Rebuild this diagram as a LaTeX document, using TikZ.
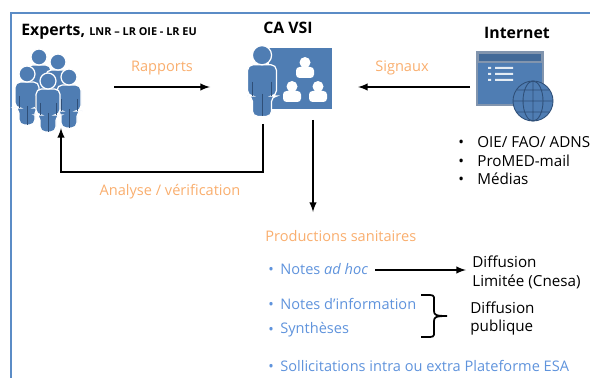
\documentclass[tikz,border=0pt]{standalone}
\usepackage{fontspec}
\setmainfont{Open Sans}
\definecolor{iconblue}{HTML}{4F7DB3}
\definecolor{icondark}{HTML}{2F4F78}
\definecolor{textblue}{HTML}{5F93DC}
\definecolor{textorange}{HTML}{F9AE6E}
\definecolor{frameblue}{HTML}{5B8CC6}
\tikzset{
  person/.pic={
    \filldraw[draw=white, fill=iconblue, line width=0.7pt, rounded corners=3pt]
        (-12,-6) -- (12,-6) -- (12,20) -- (8,20) -- (8,37) -- (-8,37) -- (-8,20) -- (-12,20) -- cycle;
    \filldraw[draw=white, fill=iconblue, line width=0.7pt] (0,-14) circle (8);
    \draw[icondark, line width=0.4pt] (0,18) -- (0,37)
                                      (-8,8) -- (-8,20)
                                      (8,8)  -- (8,20);
  },
  pupil/.pic={
    \fill[white] (0,-4.5) circle (5.5);
    \fill[white, rounded corners=2pt] (-9,0) -- (9,0) -- (9,11) -- (-9,11) -- cycle;
  }
}
\begin{document}
\begin{tikzpicture}[x=0.02cm,y=-0.02cm]
    \tikzstyle{titre}=[font=\fontsize{9pt}{10pt}\selectfont\bfseries, inner sep=0pt]
    \tikzstyle{orange}=[font=\fontsize{8.3pt}{10pt}\selectfont, text=textorange, inner sep=0pt]
    \tikzstyle{bleu}=[font=\fontsize{8.3pt}{10pt}\selectfont, text=textblue, inner sep=0pt, anchor=west]
    \tikzstyle{noir}=[font=\fontsize{8.65pt}{10pt}\selectfont, inner sep=0pt, anchor=west]
    \tikzstyle{fleche}=[draw=black, line width=0.9pt, -latex]
    \useasboundingbox (0,0) rectangle (590,378);
    \draw[draw=frameblue, line width=1pt] (590,13) -- (11,13) -- (11,378);

    \node[titre, anchor=west] (experts) at (21,32) {Experts, {\fontsize{6.2pt}{7pt}\selectfont LNR – LR OIE - LR EU}};
    \node[titre] (cavsi) at (288,28) {CA VSI};
    \node[titre] (internet) at (517,33) {Internet};

    \pic at (39,71) {person};
    \pic at (58,76) {person};
    \pic at (27,88) {person};
    \pic at (69,91) {person};
    \pic at (48,95) {person};

    \fill[fill=iconblue] (269,48) rectangle (332,109);
    \pic at (305,67) {pupil};
    \pic at (292,91) {pupil};
    \pic at (318,91) {pupil};
    \pic[scale=1.2] at (262,72) {person};

    \filldraw[draw=icondark!60, fill=iconblue, line width=0.6pt] (477,52) rectangle (543,105);
    \filldraw[draw=icondark!60, fill=iconblue!85!black, line width=0.6pt] (478,53) rectangle (542,62);
    \fill[white!85!iconblue] (488,67) rectangle (491,69)
                             (488,73) rectangle (491,75)
                             (488,79) rectangle (491,81)
                             (495,67) rectangle (513,69)
                             (495,73) rectangle (513,75)
                             (495,79) rectangle (513,81);
    \filldraw[draw=icondark, fill=iconblue, line width=0.5pt] (533,101) circle (20);
    \draw[draw=icondark, line width=0.5pt] (513,101) -- (553,101)
                                           (533,81)  -- (533,121)
                                           (517,90)  -- (549,90)
                                           (517,112) -- (549,112)
                                           (533,101) ellipse (10 and 20);

    \coordinate (rapportsa) at (114,87);
    \coordinate (rapportsb) at (210,87);
    \coordinate (signauxa)  at (470,87);
    \coordinate (signauxb)  at (358,87);
    \coordinate (analysea)  at (263,124);
    \coordinate (analyseb)  at (61,128);
    \coordinate (prodsa)    at (313,120);
    \coordinate (prodsb)    at (313,212);
    \coordinate (hoca)      at (375,270);
    \coordinate (hocb)      at (466,270);

    \draw[fleche] (rapportsa) -- (rapportsb);
    \draw[fleche] (signauxa) -- (signauxb);
    \draw[fleche] (analysea) -- (263,172) -- (61,172) -- (analyseb);
    \draw[fleche] (prodsa) -- (prodsb);
    \draw[fleche] (hoca) -- (hocb);

    \node[orange] (rapports) at (162,68) {Rapports};
    \node[orange] (signaux) at (402,68) {Signaux};
    \node[orange] (analyse) at (170,192) {Analyse / vérification};

    \node[noir] (puce1) at (458,144) {•};
    \node[noir] (puce2) at (458,163) {•};
    \node[noir] (puce3) at (458,181) {•};
    \node[noir] (oie) at (477,142) {OIE/ FAO/ ADNS};
    \node[noir] (promed) at (477,161) {ProMED-mail};
    \node[noir] (medias) at (477,179) {Médias};

    \node[orange, anchor=west] (prods) at (265,236) {Productions sanitaires};
    \node[bleu] (puce4) at (268,271) {•};
    \node[bleu] (puce5) at (268,306) {•};
    \node[bleu] (puce6) at (268,331) {•};
    \node[bleu] (puce7) at (268,368) {•};
    \node[bleu] (adhoc) at (280,269) {Notes \textit{ad hoc}};
    \node[bleu] (notes) at (280,304) {Notes d’information};
    \node[bleu] (syntheses) at (280,330) {Synthèses};
    \node[bleu] (sollic) at (280,366) {Sollicitations intra ou extra Plateforme ESA};

    \node[noir] (diffa) at (472,262) {Diffusion};
    \node[noir] (diffb) at (472,282) {Limitée (Cnesa)};
    \node[noir] (diffc) at (470,308) {Diffusion};
    \node[noir] (diffd) at (470,328) {publique};

    \draw[draw=black, line width=1pt] (421,295) -- (430,295) .. controls (435,295) and (434,298) .. (434,302)
                                      -- (434,311) .. controls (434,315) and (436,316) .. (447,316)
                                      (421,337) -- (430,337) .. controls (435,337) and (434,334) .. (434,330)
                                      -- (434,321) .. controls (434,317) and (436,316) .. (447,316);
\end{tikzpicture}
\end{document}
